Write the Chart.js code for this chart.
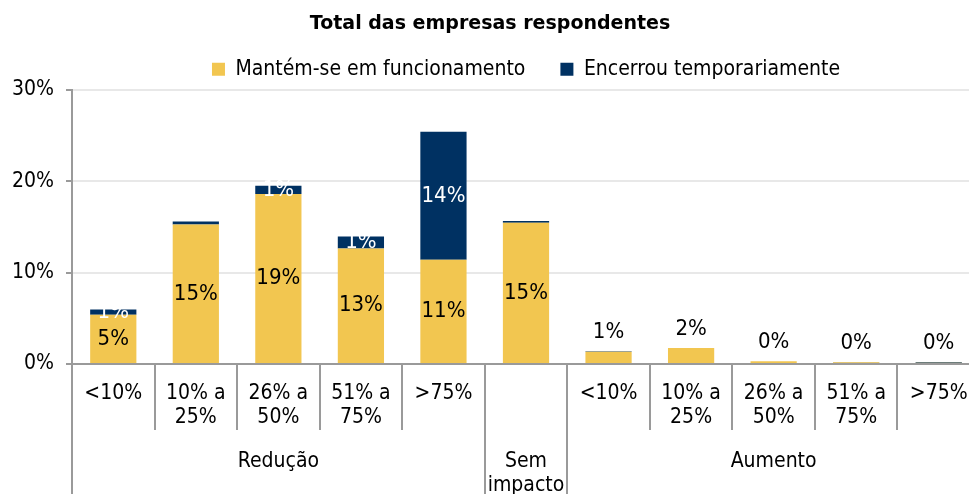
<!DOCTYPE html>
<html lang="pt">
<head>
<meta charset="utf-8">
<title>Total das empresas respondentes</title>
<script src="https://cdn.jsdelivr.net/npm/chart.js@4"></script>
<style>
  html, body { margin: 0; padding: 0; background: #fff; overflow: hidden; }
</style>
</head>
<body>
<canvas id="chart" width="998" height="494"></canvas>
<script>
// --- data (percent of companies) ---
const chartTitle = 'Total das empresas respondentes';
const seriesNames = ['Mantém-se em funcionamento', 'Encerrou temporariamente'];
const categories = [
    '<10%', ['10% a', '25%'], ['26% a', '50%'], ['51% a', '75%'], '>75%',
    '',
    '<10%', ['10% a', '25%'], ['26% a', '50%'], ['51% a', '75%'], '>75%'
];
const groupNames = ['Redução', ['Sem', 'impacto'], 'Aumento'];
const groupSizes = [5, 1, 5];
const keptOpen = [5.4, 15.25, 18.6, 12.65, 11.4, 15.45, 1.34, 1.74, 0.29, 0.2, 0.15];
const closedTemp = [0.55, 0.33, 0.9, 1.3, 14.0, 0.2, 0.05, 0, 0, 0.03, 0.08];
const yTicks = [0, 10, 20, 30];

const fontFamily = "'DejaVu Sans Condensed', 'DejaVu Sans', sans-serif";
const yellow = '#F2C650';
const navy = '#003162';
const axisGray = '#9a9a9a';
const gridGray = '#e8e8e8';

// second row of x labels: group name in the middle slot of each group
const groupTicks = [];
const groupStarts = [];
groupNames.forEach((name, g) => {
    groupStarts.push(groupTicks.length);
    for (let i = 0; i < groupSizes[g]; i++) {
        groupTicks.push(i === Math.floor(groupSizes[g] / 2) ? name : '');
    }
});

// draws the % labels on the bars
const barLabels = {
    id: 'barLabels',
    afterDatasetsDraw(chart) {
        const c = chart.ctx;
        c.save();
        c.font = '22px ' + fontFamily;
        c.textAlign = 'center';
        c.textBaseline = 'middle';
        chart.data.datasets.forEach((ds, di) => {
            const meta = chart.getDatasetMeta(di);
            meta.data.forEach((bar, i) => {
                const v = ds.data[i];
                const txt = Math.round(v) + '%';
                const { x, y, base } = bar.getProps(['x', 'y', 'base'], true);
                if (di === 0) {
                    c.fillStyle = '#000';
                    if (v < 3) c.fillText(txt, x, y - 19);
                    else c.fillText(txt, x, (y + base) / 2);
                } else if (Math.round(v) >= 1) {
                    c.fillStyle = '#fff';
                    c.fillText(txt, x, (y + base) / 2);
                }
            });
        });
        c.restore();
    }
};

const tickFont = { family: fontFamily, size: 21, lineHeight: 1.15 };

new Chart(document.getElementById('chart'), {
    type: 'bar',
    data: {
        labels: categories,
        datasets: [
            { label: seriesNames[0], data: keptOpen, backgroundColor: yellow },
            { label: seriesNames[1], data: closedTemp, backgroundColor: navy }
        ]
    },
    options: {
        responsive: false,
        animation: false,
        barPercentage: 0.56,
        categoryPercentage: 1,
        layout: { padding: { left: 0, right: 18, top: 0, bottom: 0 } },
        scales: {
            x: {
                stacked: true,
                offset: true,
                weight: 0,
                grid: { offset: true, drawOnChartArea: false, color: axisGray, lineWidth: 2, tickLength: 66 },
                border: { color: axisGray, width: 2 },
                ticks: { font: tickFont, color: '#000', padding: -49, maxRotation: 0, autoSkip: false },
                afterFit: (s) => { s.height = 66; }
            },
            xGroup: {
                type: 'category',
                position: 'bottom',
                labels: groupTicks,
                offset: true,
                weight: 1,
                grid: {
                    offset: true,
                    drawOnChartArea: false,
                    lineWidth: 2,
                    tickLength: 70,
                    color: (ctx) => groupStarts.includes(ctx.index) ? axisGray : 'rgba(0,0,0,0)'
                },
                border: { display: false },
                ticks: { font: tickFont, color: '#000', padding: -51, maxRotation: 0, autoSkip: false },
                afterFit: (s) => { s.height = 64; }
            },
            y: {
                stacked: true,
                min: yTicks[0],
                max: yTicks[yTicks.length - 1],
                afterBuildTicks: (s) => { s.ticks = yTicks.map(v => ({ value: v })); },
                ticks: { font: tickFont, color: '#000', padding: 12, callback: (v) => v + '%' },
                grid: { color: gridGray, lineWidth: 2, tickColor: axisGray, tickLength: 6 },
                border: { color: axisGray, width: 2 },
                afterFit: (s) => { s.width = 72; }
            }
        },
        plugins: {
            title: {
                display: true,
                text: chartTitle,
                color: '#000',
                font: { family: "'DejaVu Sans', sans-serif", size: 19, weight: 'bold' },
                padding: { top: 13, bottom: -12 }
            },
            legend: {
                fullSize: false,
                labels: {
                    boxWidth: 13,
                    boxHeight: 13,
                    padding: 35,
                    color: '#000',
                    font: { family: fontFamily, size: 21 }
                }
            },
            tooltip: { enabled: false }
        }
    },
    plugins: [barLabels]
});
</script>
</body>
</html>
